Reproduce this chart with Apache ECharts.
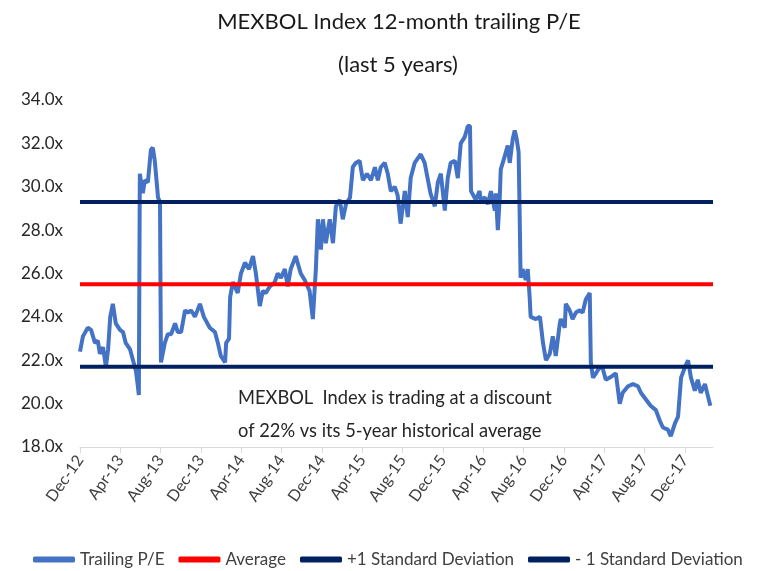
<!DOCTYPE html>
<html>
<head>
<meta charset="utf-8">
<script src="https://cdn.jsdelivr.net/npm/echarts@6/dist/echarts.min.js"></script>
<style>html,body{margin:0;padding:0;background:#fff;}#c{width:764px;height:571px;}</style>
</head>
<body>
<div id="c"></div>
<script>
const dates = [
'2012-12-01','2012-12-10','2012-12-25','2013-01-04','2013-01-16','2013-01-25','2013-01-31','2013-02-09','2013-02-17','2013-02-23',
'2013-03-01','2013-03-09','2013-03-18','2013-03-31','2013-04-09','2013-04-17','2013-04-30','2013-05-09','2013-05-18','2013-05-24',
'2013-05-27','2013-05-30','2013-06-08','2013-06-14','2013-06-23','2013-07-02','2013-07-08','2013-07-14','2013-07-24','2013-07-30',
'2013-08-02','2013-08-14','2013-08-23','2013-09-02','2013-09-14','2013-09-22','2013-10-02','2013-10-14','2013-10-23','2013-11-02',
'2013-11-13','2013-11-28','2013-12-10','2013-12-28','2014-01-13','2014-01-22','2014-01-31','2014-02-12','2014-02-15','2014-02-23',
'2014-02-26','2014-03-06','2014-03-21','2014-03-31','2014-04-12','2014-04-24','2014-05-06','2014-05-15','2014-05-27','2014-06-05',
'2014-06-14','2014-06-26','2014-07-11','2014-07-20','2014-07-30','2014-08-11','2014-08-20','2014-08-29','2014-09-13','2014-09-28',
'2014-10-10','2014-10-25','2014-11-04','2014-11-13','2014-11-19','2014-11-28','2014-12-04','2014-12-13','2014-12-25','2015-01-04',
'2015-01-13','2015-01-25','2015-02-03','2015-02-12','2015-02-23','2015-03-03','2015-03-12','2015-03-24','2015-04-03','2015-04-15',
'2015-04-27','2015-05-09','2015-05-18','2015-05-27','2015-06-08','2015-06-17','2015-06-26','2015-07-08','2015-07-17','2015-07-26',
'2015-08-08','2015-08-17','2015-08-26','2015-09-07','2015-09-25','2015-10-07','2015-10-16','2015-10-25','2015-11-07','2015-11-16',
'2015-11-25','2015-12-07','2015-12-16','2015-12-25','2016-01-07','2016-01-16','2016-01-25','2016-02-06','2016-02-15','2016-02-21',
'2016-02-24','2016-03-09','2016-03-21','2016-03-24','2016-04-06','2016-04-15','2016-04-24','2016-05-06','2016-05-09','2016-05-15',
'2016-05-21','2016-05-24','2016-06-05','2016-06-14','2016-06-20','2016-06-29','2016-07-05','2016-07-11','2016-07-17','2016-07-20',
'2016-07-23','2016-07-29','2016-08-08','2016-08-14','2016-08-20','2016-08-23','2016-09-08','2016-09-20','2016-09-29','2016-10-08',
'2016-10-20','2016-10-29','2016-11-07','2016-11-19','2016-11-22','2016-12-04','2016-12-07','2016-12-19','2016-12-28','2017-01-07',
'2017-01-19','2017-01-28','2017-02-06','2017-02-17','2017-02-20','2017-02-26','2017-03-07','2017-03-19','2017-03-28','2017-04-06',
'2017-04-18','2017-05-06','2017-05-18','2017-05-27','2017-06-12','2017-06-27','2017-07-12','2017-07-21','2017-08-05','2017-08-20',
'2017-09-05','2017-09-17','2017-09-26','2017-10-11','2017-10-20','2017-11-02','2017-11-11','2017-11-20','2017-12-02','2017-12-11',
'2017-12-20','2018-01-01','2018-01-10','2018-01-19','2018-02-01','2018-02-10','2018-02-16'
];
const trailingPE = [
22.4,23.1,23.5,23.4,22.8,22.9,22.3,22.6,21.7,22.5,
24.0,24.6,23.7,23.4,23.3,22.8,22.5,22.0,21.5,20.8,
20.4,30.6,29.7,30.3,30.2,31.7,31.8,31.2,29.5,29.3,
21.9,22.8,23.2,23.2,23.7,23.3,23.3,24.3,24.2,24.3,
24.0,24.6,24.0,23.5,23.3,22.8,22.2,21.9,22.8,23.0,
24.9,25.6,25.1,26.0,26.5,26.2,26.8,26.0,24.5,25.2,
25.1,25.4,25.6,26.0,25.8,26.2,25.4,26.2,26.8,26.0,
25.7,25.2,23.9,26.2,28.5,27.1,28.5,27.4,28.5,27.4,
29.1,29.4,28.5,29.2,29.5,30.9,31.1,31.2,30.3,30.6,
30.3,30.9,30.3,30.9,31.1,30.6,29.8,30.0,29.6,28.3,
29.8,28.6,30.4,31.1,31.5,31.1,30.4,29.7,29.1,30.2,
30.6,28.9,30.4,31.1,31.2,30.4,32.0,32.3,32.8,32.8,
29.8,29.4,29.8,29.4,29.5,29.2,29.8,28.9,29.7,28.0,
29.5,30.8,31.4,31.9,31.1,32.2,32.6,32.2,31.6,28.9,
25.8,26.2,25.7,26.2,24.9,24.0,23.9,24.0,22.8,22.0,
22.3,23.1,22.2,23.7,23.9,23.5,24.6,24.3,23.9,24.2,
24.3,24.2,24.8,25.1,21.9,21.2,21.4,21.7,21.6,21.1,
21.2,21.4,20.0,20.5,20.8,20.9,20.8,20.5,20.2,19.9,
19.7,19.2,18.9,18.8,18.5,19.1,19.4,21.2,21.7,22.0,
21.2,20.6,21.1,20.5,20.9,20.3,19.9
];
const averagePE = 25.5;
const plusOneSD = 29.3;
const minusOneSD = 21.7;
const tickLabels = ['Dec-12','Apr-13','Aug-13','Dec-13','Apr-14','Aug-14','Dec-14','Apr-15','Aug-15','Dec-15','Apr-16','Aug-16','Dec-16','Apr-17','Aug-17','Dec-17'];

function monthsSinceStart(s) {
  const p = s.split('-').map(Number);
  const dim = new Date(Date.UTC(p[0], p[1], 0)).getUTCDate();
  return (p[0] - 2012) * 12 + (p[1] - 12) + (p[2] - 1) / dim;
}
const xMax = 62.8;
const tickVals = tickLabels.map((_, i) => i * 4);
const peData = dates.map((d, i) => [monthsSinceStart(d), trailingPE[i]]);
const flat = v => [[0, v], [xMax, v]];
const FONT = 'Lato';

const chart = echarts.init(document.getElementById('c'), null, {renderer: 'canvas'});
chart.setOption({
  animation: false,
  backgroundColor: '#fff',
  grid: {left: 80, right: 51, top: 100, bottom: 124},
  graphic: [
    {type: 'text', style: {text: 'MEXBOL Index 12-month trailing P/E', x: 399, y: 22, textAlign: 'center', textVerticalAlign: 'middle', font: '22px Lato', fill: '#1a1a1a'}},
    {type: 'text', style: {text: '(last 5 years)', x: 398, y: 65, textAlign: 'center', textVerticalAlign: 'middle', font: '22px Lato', fill: '#1a1a1a'}},
    {type: 'text', style: {text: 'MEXBOL  Index is trading at a discount', x: 238, y: 398, textVerticalAlign: 'middle', font: '18.3px Lato', fill: '#262626'}},
    {type: 'text', style: {text: 'of 22% vs its 5-year historical average', x: 238, y: 431, textVerticalAlign: 'middle', font: '18.3px Lato', fill: '#262626'}}
  ],
  legend: {
    left: 28, top: 546, itemWidth: 42, itemHeight: 6, itemGap: 14, icon: 'roundRect',
    textStyle: {fontFamily: FONT, fontSize: 17, color: '#404040'},
    data: ['Trailing P/E', 'Average', '+1 Standard Deviation', '- 1 Standard Deviation']
  },
  xAxis: {
    type: 'value', min: 0, max: xMax, interval: 4,
    splitLine: {show: false},
    axisLine: {lineStyle: {color: '#d9d9d9', width: 1}},
    axisTick: {show: true, customValues: tickVals, length: 6, lineStyle: {color: '#d9d9d9'}},
    axisLabel: {customValues: tickVals, rotate: 55, margin: 10, fontFamily: FONT, fontSize: 16, color: '#404040',
      formatter: v => tickLabels[Math.round(v / 4)] || ''}
  },
  yAxis: {
    type: 'value', min: 18, max: 34, interval: 2,
    splitLine: {show: false},
    axisLine: {show: false}, axisTick: {show: false},
    axisLabel: {margin: 17, fontFamily: FONT, fontSize: 17, color: '#262626', formatter: v => v.toFixed(1) + 'x'}
  },
  series: [
    {name: 'Trailing P/E', type: 'line', data: peData, showSymbol: false, symbol: 'none', lineStyle: {color: '#4472C4', width: 4}, itemStyle: {color: '#4472C4'}},
    {name: 'Average', type: 'line', data: flat(averagePE), showSymbol: false, symbol: 'none', lineStyle: {color: '#FF0000', width: 4}, itemStyle: {color: '#FF0000'}},
    {name: '+1 Standard Deviation', type: 'line', data: flat(plusOneSD), showSymbol: false, symbol: 'none', lineStyle: {color: '#002060', width: 4}, itemStyle: {color: '#002060'}},
    {name: '- 1 Standard Deviation', type: 'line', data: flat(minusOneSD), showSymbol: false, symbol: 'none', lineStyle: {color: '#002060', width: 4}, itemStyle: {color: '#002060'}}
  ]
});
</script>
</body>
</html>
